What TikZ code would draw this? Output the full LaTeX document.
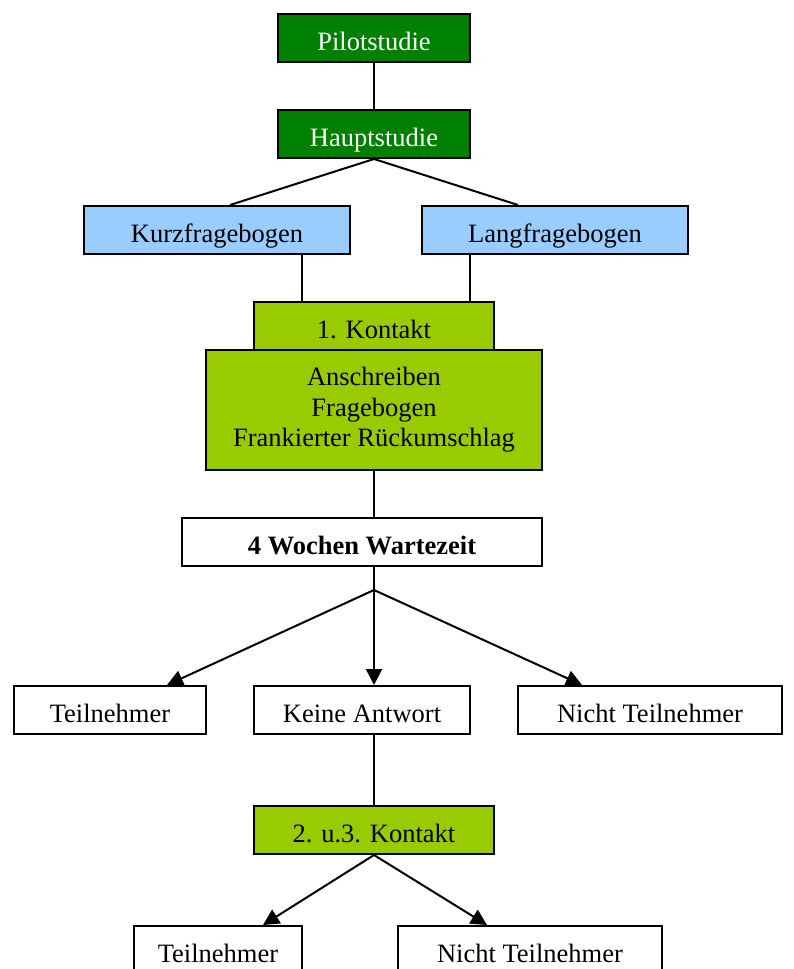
\documentclass[tikz,border=0pt]{standalone}
\usepackage{fontspec}
\setmainfont{Liberation Serif}
\usepackage{tikz}
\usetikzlibrary{arrows.meta, positioning}
\definecolor{dunkelgruen}{RGB}{0,128,0}
\definecolor{hellblau}{RGB}{153,204,255}
\definecolor{gelbgruen}{RGB}{153,204,0}
\tikzstyle{rahmen} = [rectangle, minimum height=48pt, inner sep=0pt, text centered, draw=black, line width=2pt, align=center, font=\fontsize{26.5}{30.5}\selectfont]
\tikzstyle{box} = [rahmen, text height=27pt, text depth=3pt]
\tikzstyle{studie} = [box, fill=dunkelgruen, text=white]
\tikzstyle{bogen} = [box, fill=hellblau]
\tikzstyle{kontakt} = [box, fill=gelbgruen]
\tikzstyle{ergebnis} = [box, fill=white]
\tikzstyle{linie} = [line width=2pt]
\tikzstyle{pfeil} = [line width=2pt, -{Triangle[length=16pt, width=16pt]}]

\begin{document}
\begin{tikzpicture}[x=1pt, y=-1pt]
            \clip (0,0) rectangle (794,969);
            \fill[white] (0,0) rectangle (794,969);
            \node[studie, minimum width=192pt] (pilot) at (374,38) {Pilotstudie};
            \node[studie, minimum width=192pt] (haupt) at (374,134) {Hauptstudie};
            \node[bogen, minimum width=266pt] (kurz) at (217,230) {Kurzfragebogen};
            \node[bogen, minimum width=266pt] (lang) at (555,230) {Langfragebogen};
            \node[kontakt, minimum width=240pt] (kontakt1) at (374,326) {1. Kontakt};
            \node[rahmen, fill=gelbgruen, minimum width=336pt, minimum height=120pt] (inhalt) at (374,410) {Anschreiben\\Fragebogen\\Frankierter Rückumschlag};
            \node[ergebnis, minimum width=360pt] (warte) at (362,542) {\textbf{4 Wochen Wartezeit}};
            \node[ergebnis, minimum width=192pt] (teil1) at (110,710) {Teilnehmer};
            \node[ergebnis, minimum width=216pt] (keine) at (362,710) {Keine Antwort};
            \node[ergebnis, minimum width=264pt] (nicht1) at (650,710) {Nicht Teilnehmer};
            \node[kontakt, minimum width=240pt] (kontakt2) at (374,830) {2. u.3. Kontakt};
            \node[ergebnis, minimum width=168pt] (teil2) at (218,950) {Teilnehmer};
            \node[ergebnis, minimum width=264pt] (nicht2) at (530,950) {Nicht Teilnehmer};
            \coordinate (gabel) at (374,590);

            \draw[linie] (pilot) -- (haupt);
            \draw[linie] (haupt.south) -- ([xshift=13pt]kurz.north);
            \draw[linie] (haupt.south) -- ([xshift=-37pt]lang.north);
            \draw[linie] ([xshift=85pt]kurz.south) -- ([xshift=-72pt]kontakt1.north);
            \draw[linie] ([xshift=-85pt]lang.south) -- ([xshift=96pt]kontakt1.north);
            \draw[linie] (inhalt.south) -- ([xshift=12pt]warte.north);
            \draw[linie] ([xshift=12pt]warte.south) -- (gabel);
            \draw[pfeil] (gabel) -- ([xshift=57pt]teil1.north);
            \draw[pfeil] (gabel) -- ([xshift=12pt]keine.north);
            \draw[pfeil] (gabel) -- ([xshift=-68pt]nicht1.north);
            \draw[linie] ([xshift=12pt]keine.south) -- (kontakt2.north);
            \draw[pfeil] (kontakt2.south) -- ([xshift=45pt]teil2.north);
            \draw[pfeil] (kontakt2.south) -- ([xshift=-43pt]nicht2.north);
        \end{tikzpicture}
\end{document}
